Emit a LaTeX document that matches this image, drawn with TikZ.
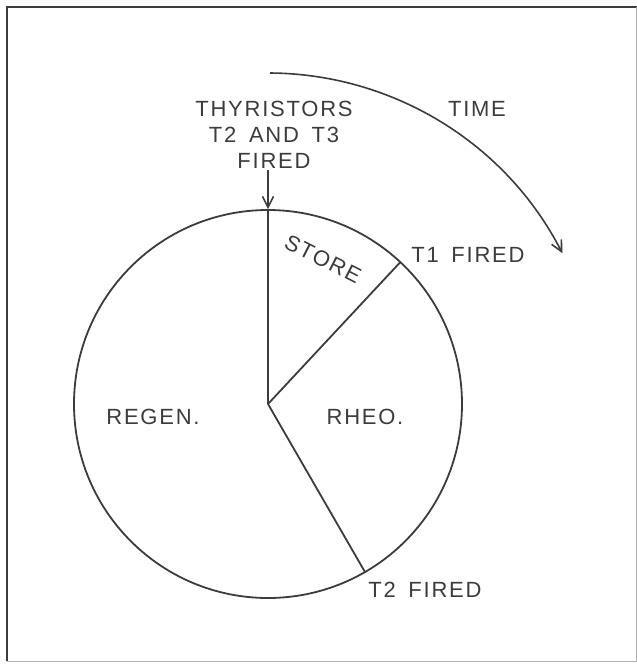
\documentclass[tikz,border=0pt]{standalone}
\usepackage{fontspec}
\setmainfont{Liberation Sans}[LetterSpace=8, WordSpace=1.6]
\usetikzlibrary{arrows.meta,calc}
\definecolor{ink}{HTML}{3C3C3C}
\tikzset{
  lbl/.style={font=\fontsize{22}{26}\selectfont, text=ink, inner sep=0pt, align=center},
  ln/.style={draw=ink, line width=1.8pt},
  barb/.style={-{Straight Barb[length=11pt,width=11pt,line width=1.6pt]}}
}
\begin{document}
\begin{tikzpicture}[x=1pt,y=-1pt]
\useasboundingbox (0,0) rectangle (637,665);
% frame
\draw[ink, line width=2pt] (6.5,661) -- (6.5,6.5) -- (637,6.5);
\draw[ink!40, line width=1pt] (6.5,661) -- (636,661) -- (636,6.5);
% circle
\coordinate (c) at (268,404);
\node[circle, ln, minimum size=388pt, inner sep=0pt] (wheel) at (c) {};
\draw[ln] (c) -- (wheel.north);
\draw[ln] (c) -- (wheel.47.7);
\draw[ln] (c) -- (wheel.-60.6);
% labels
\node[lbl] (thyr) at (274,135) {THYRISTORS\\T2 AND T3\\FIRED};
\draw[ln, line width=1.6pt, barb] (268,170) -- (wheel.north);
\node[lbl] (time) at (477,109) {TIME};
\coordinate (tstart) at (270,73);
\draw[ln, line width=1.6pt, barb] (tstart) arc[start angle=-89.6, end angle=-27.1, radius=331];
\node[lbl] (t1) at (468,255) {T1 FIRED};
\node[lbl, rotate=-27] (store) at (323,259) {STORE};
\node[lbl] (rheo) at (365,417) {RHEO.};
\node[lbl] (regen) at (153,417) {REGEN.};
\node[lbl] (t2) at (425,590) {T2 FIRED};
\end{tikzpicture}
\end{document}
